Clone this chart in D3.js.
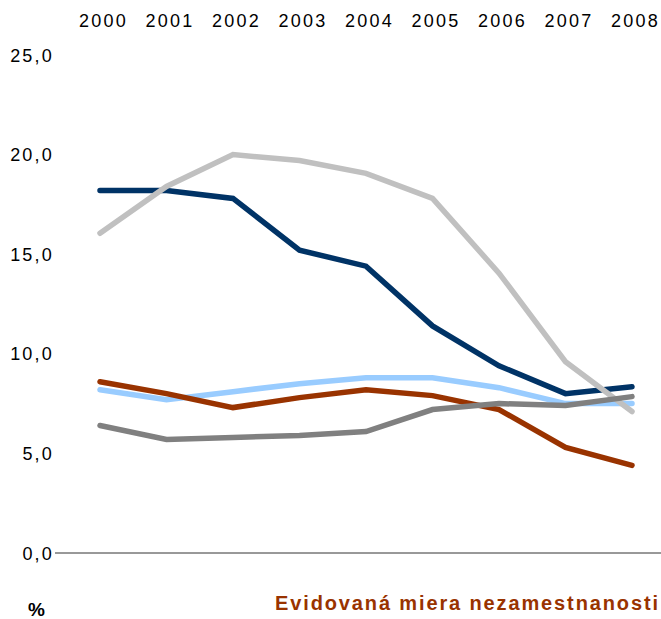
<!DOCTYPE html>
<html><head><meta charset="utf-8">
<script src="https://cdn.jsdelivr.net/npm/d3@7"></script>
<style>body{margin:0;background:#fff}svg{display:block}text{font-family:"Liberation Sans",Arial,sans-serif}</style>
</head><body><svg id="c" width="661" height="619"></svg>
<script>
const years = ["2000","2001","2002","2003","2004","2005","2006","2007","2008"];
const yTicks = [0,5,10,15,20,25];
const seriesA = [18.2,18.2,17.8,15.2,14.4,11.4,9.4,8.0,8.35];   // navy
const seriesB = [16.05,18.4,20.0,19.7,19.06,17.8,14.05,9.6,7.1]; // light gray
const seriesC = [8.2,7.7,8.1,8.5,8.8,8.8,8.3,7.5,7.5];          // light blue
const seriesD = [8.6,8.0,7.3,7.8,8.2,7.9,7.2,5.3,4.4];          // brown
const seriesE = [6.4,5.7,5.8,5.9,6.1,7.2,7.5,7.4,7.85];         // dark gray
const title = "Evidovaná miera nezamestnanosti";
const unit = "%";

const series = [
  {v: seriesC, c: "#99ccff"},
  {v: seriesD, c: "#993300"},
  {v: seriesA, c: "#003366"},
  {v: seriesB, c: "#c0c0c0"},
  {v: seriesE, c: "#808080"}
];

const svg = d3.select("#c");
const x = d3.scalePoint().domain(years).range([100, 632]);
const y = d3.scaleLinear().domain([0,25]).range([553, 55]);

// y tick labels
svg.append("g").selectAll("text").data(yTicks).join("text")
  .attr("x", 54).attr("y", d => y(d) + 6.5)
  .attr("text-anchor", "end").attr("font-size", 18).attr("letter-spacing", 2.2).attr("fill", "#000")
  .text(d => d3.format(".1f")(d).replace(".", ","));

// year labels at top
svg.append("g").selectAll("text").data(years).join("text")
  .attr("x", d => x(d) + 3.5).attr("y", 27)
  .attr("text-anchor", "middle").attr("font-size", 18).attr("letter-spacing", 2.2).attr("fill", "#000")
  .text(d => d);

// baseline
svg.append("line").attr("x1", 55).attr("x2", 661).attr("y1", y(0)).attr("y2", y(0))
  .attr("stroke", "#333").attr("stroke-width", 1);

const line = d3.line().x((d,i) => x(years[i])).y(d => y(d));
svg.append("g").selectAll("path").data(series).join("path")
  .attr("d", d => line(d.v)).attr("fill", "none")
  .attr("stroke", d => d.c).attr("stroke-width", 5.5)
  .attr("stroke-linecap", "round").attr("stroke-linejoin", "miter");

svg.append("text").attr("x", 36.5).attr("y", 616).attr("text-anchor", "middle")
  .attr("font-size", 19).attr("font-weight", "bold").text(unit);

svg.append("text").attr("x", 275).attr("y", 610)
  .attr("font-size", 20).attr("font-weight", "bold").attr("fill", "#993300")
  .attr("textLength", 383).attr("lengthAdjust", "spacing").text(title);
</script></body></html>
